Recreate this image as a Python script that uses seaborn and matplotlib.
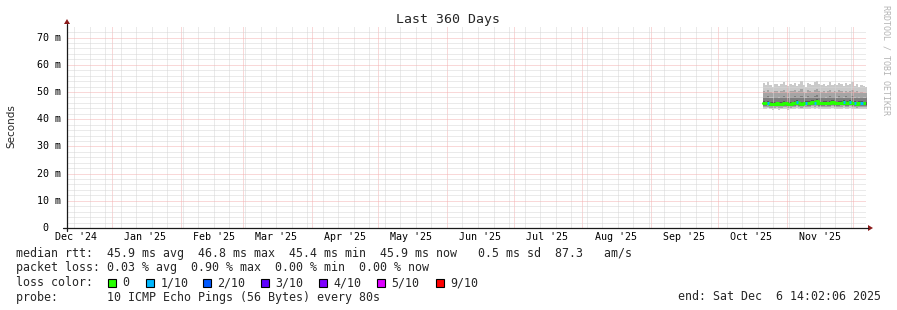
import matplotlib
matplotlib.use("Agg")
import numpy as np
import pandas as pd
import matplotlib.pyplot as plt
import matplotlib.dates as mdates
import matplotlib.transforms as mtrans
from matplotlib.ticker import MultipleLocator
from matplotlib.lines import Line2D
from matplotlib.patches import Polygon, Rectangle
import seaborn as sns

# ---------------- data ----------------
end_time = pd.Timestamp("2025-12-06 14:02:06")
span_days = 360
first_sample = "2025-10-21 06:00"

median_ms = [46.0, 45.8, 46.1, 45.7, 45.6, 45.7, 45.8, 45.6, 45.7, 45.9,
             45.8, 45.6, 45.7, 45.9, 46.0, 46.2, 45.9, 45.7, 45.8, 46.1,
             45.9, 46.0, 46.3, 46.1, 46.6, 46.0, 45.8, 45.9, 46.1, 45.8,
             45.9, 46.2, 46.0, 45.8, 45.9, 46.1, 46.3, 46.0, 45.9, 46.2,
             45.8, 46.0, 45.7, 45.9, 46.0, 45.8, 45.9]
ping1 = [43.9, 43.7, 44.0, 43.6, 43.5, 43.6, 43.8, 43.5, 43.7, 43.9,
         43.7, 43.5, 43.6, 43.8, 43.9, 44.0, 43.8, 43.6, 43.7, 43.9,
         43.8, 43.8, 44.1, 43.9, 44.2, 43.8, 43.7, 43.8, 43.9, 43.7,
         43.8, 44.0, 43.8, 43.7, 43.8, 43.9, 44.1, 43.8, 43.8, 44.0,
         43.7, 43.8, 43.6, 43.8, 43.8, 43.7, 43.8]
ping2 = [44.5, 44.4, 44.6, 44.3, 44.2, 44.3, 44.4, 44.2, 44.3, 44.5,
         44.4, 44.2, 44.3, 44.5, 44.5, 44.7, 44.5, 44.3, 44.4, 44.6,
         44.5, 44.5, 44.8, 44.6, 44.9, 44.5, 44.4, 44.5, 44.6, 44.4,
         44.5, 44.7, 44.5, 44.4, 44.5, 44.6, 44.8, 44.5, 44.5, 44.7,
         44.4, 44.5, 44.3, 44.5, 44.5, 44.4, 44.5]
ping3 = [45.0, 44.9, 45.1, 44.8, 44.7, 44.8, 44.9, 44.7, 44.8, 45.0,
         44.9, 44.7, 44.8, 45.0, 45.0, 45.2, 45.0, 44.8, 44.9, 45.1,
         45.0, 45.0, 45.3, 45.1, 45.4, 45.0, 44.9, 45.0, 45.1, 44.9,
         45.0, 45.2, 45.0, 44.9, 45.0, 45.1, 45.3, 45.0, 45.0, 45.2,
         44.9, 45.0, 44.8, 45.0, 45.0, 44.9, 45.0]
ping4 = [45.4, 45.3, 45.5, 45.2, 45.1, 45.2, 45.3, 45.1, 45.2, 45.4,
         45.3, 45.1, 45.2, 45.4, 45.4, 45.6, 45.4, 45.2, 45.3, 45.5,
         45.4, 45.4, 45.7, 45.5, 45.9, 45.4, 45.3, 45.4, 45.5, 45.3,
         45.4, 45.6, 45.4, 45.3, 45.4, 45.5, 45.7, 45.4, 45.4, 45.6,
         45.3, 45.4, 45.2, 45.4, 45.4, 45.3, 45.4]
ping7 = [46.7, 46.4, 46.8, 46.3, 46.2, 46.4, 46.5, 46.2, 46.3, 46.6,
         46.4, 46.2, 46.4, 46.5, 46.7, 46.9, 46.5, 46.4, 46.4, 46.8,
         46.6, 46.6, 47.0, 46.8, 47.3, 46.7, 46.4, 46.6, 46.8, 46.4,
         46.6, 46.9, 46.7, 46.4, 46.6, 46.8, 47.0, 46.6, 46.6, 46.9,
         46.5, 46.7, 46.3, 46.6, 46.7, 46.4, 46.5]
ping8 = [48.3, 48.0, 48.5, 47.9, 47.7, 48.1, 48.3, 47.8, 48.2, 48.6,
         48.0, 47.8, 48.2, 48.1, 48.4, 48.0, 48.2, 48.7, 48.0, 47.7,
         48.4, 48.2, 48.1, 48.5, 48.8, 48.3, 48.0, 48.3, 47.9, 48.1,
         48.6, 48.0, 48.3, 47.9, 48.4, 48.3, 47.8, 48.4, 48.1, 48.2,
         48.5, 47.9, 48.1, 47.7, 48.0, 47.9, 47.7]
ping9 = [50.4, 50.1, 50.8, 49.9, 49.6, 50.2, 50.5, 49.8, 50.3, 50.9,
         50.0, 49.7, 50.4, 50.2, 50.7, 49.9, 50.3, 51.0, 50.1, 49.6,
         50.6, 50.3, 50.0, 50.8, 51.2, 50.4, 50.1, 50.5, 49.8, 50.2,
         50.9, 50.0, 50.4, 49.9, 50.7, 50.3, 49.7, 50.5, 50.1, 50.3,
         50.8, 49.9, 50.2, 49.6, 50.0, 49.8, 49.5]
ping10 = [53.2, 52.6, 53.8, 52.4, 51.9, 52.8, 53.1, 52.2, 52.9, 53.6,
          52.5, 52.1, 53.0, 52.7, 53.4, 52.3, 52.8, 53.9, 52.6, 52.0,
          53.3, 52.8, 52.4, 53.5, 54.2, 52.9, 52.6, 53.1, 52.2, 52.7,
          53.8, 52.5, 53.0, 52.4, 53.4, 52.8, 52.1, 53.2, 52.6, 52.9,
          53.5, 52.3, 52.8, 52.0, 52.6, 52.3, 51.8]
loss_tenths = [0, 0, 1, 0, 0, 0, 0, 0, 0, 0,
               0, 0, 0, 0, 0, 1, 0, 0, 0, 1,
               0, 0, 0, 1, 0, 0, 0, 0, 0, 0,
               0, 0, 0, 0, 0, 0, 1, 0, 0, 1,
               0, 1, 0, 0, 1, 0, 0]

loss_levels = [0, 1, 2, 3, 4, 5, 9]
loss_labels = ["0", "1/10", "2/10", "3/10", "4/10", "5/10", "9/10"]
loss_colors = ["#26ff00", "#00b8ff", "#0059ff", "#5e00ff", "#7e00ff", "#dd00ff", "#ff0000"]
smoke_colors = ["#cacaca", "#a4a4a4", "#7e7e7e", "#585858"]

title = "Last 360 Days"
ylabel = "Seconds"
stats_lines = [
    "median rtt:  45.9 ms avg  46.8 ms max  45.4 ms min  45.9 ms now   0.5 ms sd  87.3   am/s",
    "packet loss: 0.03 % avg  0.90 % max  0.00 % min  0.00 % now",
]
probe_line = "probe:       10 ICMP Echo Pings (56 Bytes) every 80s"
end_line = "end: Sat Dec  6 14:02:06 2025"
watermark = "RRDTOOL / TOBI OETIKER"

# ---------------- figure ----------------
sns.set_style("white")
plt.rcParams["font.family"] = ["DejaVu Sans"]
MONO = "DejaVu Sans Mono"

W, H = 897, 310
fig = plt.figure(figsize=(W / 100, H / 100), dpi=100)
fig.patch.set_facecolor("white")

L, R, T, B = 66.5, 865.5, 27.0, 228.0
ax = fig.add_axes([L / W, 1 - B / H, (R - L) / W, (B - T) / H])
ax.set_facecolor("white")

def fx(px):
    return px / W

def fy(py):
    return 1 - py / H

dates = pd.date_range(first_sample, periods=len(median_ms), freq="D")
edges = dates.append(pd.DatetimeIndex([dates[-1] + pd.Timedelta(days=1)]))

def ext(a):
    return list(a) + [a[-1]]

# smoke
pairs = [(ping1, ping10), (ping2, ping9), (ping3, ping8), (ping4, ping7)]
for (lo, hi), c in zip(pairs, smoke_colors):
    ax.fill_between(edges, ext(lo), ext(hi), step="post", color=c, lw=0, zorder=1)

# median line (green = no loss)
df = pd.DataFrame({"t": edges, "rtt": ext(median_ms)})
sns.lineplot(data=df, x="t", y="rtt", ax=ax, color=loss_colors[0], lw=2.2,
             drawstyle="steps-post", estimator=None, zorder=3)
color_of = dict(zip(loss_levels, loss_colors))
for i, l in enumerate(loss_tenths):
    if l > 0:
        ax.hlines(median_ms[i], edges[i], edges[i + 1], color=color_of[l], lw=2.2, zorder=4)

start_time = end_time - pd.Timedelta(days=span_days)
ax.set_xlim(start_time, end_time)
ax.set_ylim(0, 73.9)
ax.set_xlabel("")
ax.set_ylabel("")

ax.xaxis.set_major_locator(mdates.MonthLocator())
ax.xaxis.set_minor_locator(mdates.WeekdayLocator(byweekday=mdates.SU))
ax.yaxis.set_major_locator(MultipleLocator(10))
ax.yaxis.set_minor_locator(MultipleLocator(2))
ax.grid(which="minor", color="#d6d6d6", lw=0.72, ls=(0, (1, 1)))
ax.grid(which="major", color="#f5b2b2", lw=0.72, ls=(0, (1, 1)))
ax.set_axisbelow(False)
ax.tick_params(which="both", length=0, labelbottom=False, labelleft=False)
for s in ax.spines.values():
    s.set_visible(False)

# y tick labels
ty = mtrans.blended_transform_factory(fig.transFigure, ax.transData)
for v in range(0, 80, 10):
    lab = f"{v} m" if v else "0"
    xr = 60.5 if v else 48.5
    ax.text(fx(xr), v, lab, transform=ty, ha="right", va="center",
            family=MONO, fontsize=7.2, color="black", clip_on=False)

# x month labels (centred mid-month)
tx = mtrans.blended_transform_factory(ax.transData, fig.transFigure)
months = pd.date_range("2024-12-01", "2025-11-01", freq="MS")
for m in months:
    pos = mdates.date2num(m + pd.Timedelta(days=15))
    ax.text(pos, fy(237.5), m.strftime("%b '%y"), transform=tx, ha="center",
            va="center", family=MONO, fontsize=7.2, color="black", clip_on=False)

# axes lines and arrows
axis_col = "#1a1a1a"
arrow_col = "#8b1a1a"
fig.add_artist(Line2D([fx(67), fx(67)], [fy(231), fy(24)], color=axis_col, lw=0.9))
fig.add_artist(Line2D([fx(63), fx(868)], [fy(228), fy(228)], color=axis_col, lw=0.9))
fig.add_artist(Polygon([(fx(64), fy(24)), (fx(70), fy(24)), (fx(67), fy(19))],
                       closed=True, color=arrow_col, lw=0))
fig.add_artist(Polygon([(fx(868), fy(225)), (fx(868), fy(231)), (fx(873), fy(228))],
                       closed=True, color=arrow_col, lw=0))

# title, ylabel, watermark
fig.text(fx(448), fy(19), title, ha="center", va="center", family=MONO, fontsize=9.5)
fig.text(fx(11), fy(126), ylabel, ha="center", va="center", rotation=90,
         family="DejaVu Sans", fontsize=7.5)
fig.text(fx(886), fy(60), watermark, ha="center", va="center", rotation=270,
         family=MONO, fontsize=6, color="#b4b4b4")

# legend / stats
FS = 8.4
fig.text(fx(16), fy(253.5), stats_lines[0], ha="left", va="center", family=MONO, fontsize=FS)
fig.text(fx(16), fy(268), stats_lines[1], ha="left", va="center", family=MONO, fontsize=FS)
fig.text(fx(16), fy(282.5), "loss color:", ha="left", va="center", family=MONO, fontsize=FS)
box_x = [108, 146, 203, 261, 319, 377, 436]
for bx, lab, c in zip(box_x, loss_labels, loss_colors):
    fig.add_artist(Rectangle((fx(bx), fy(286.5)), 8 / W, 8 / H, facecolor=c,
                             edgecolor="black", lw=0.8, transform=fig.transFigure))
    fig.text(fx(bx + 14.5), fy(282.5), lab, ha="left", va="center", family=MONO, fontsize=FS)
fig.text(fx(16), fy(297), probe_line, ha="left", va="center", family=MONO, fontsize=FS)
fig.text(fx(678), fy(297), end_line, ha="left", va="center", family=MONO, fontsize=FS)

fig.savefig("out.png", dpi=100, facecolor="white")
